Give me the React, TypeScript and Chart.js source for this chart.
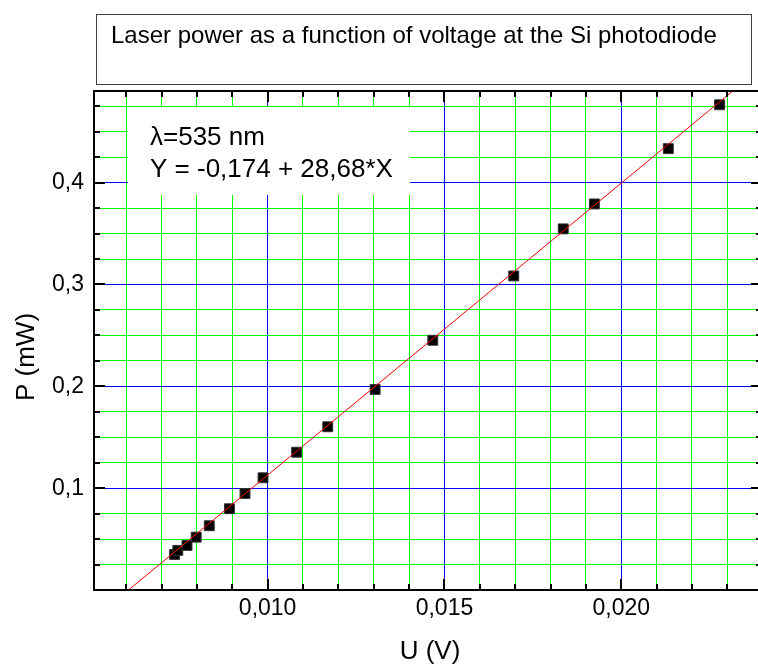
import React, { useEffect, useRef } from 'react';
import { Chart, registerables } from 'chart.js';

Chart.register(...registerables);

// ---- data ----
const voltageU = [0.00737, 0.00746, 0.00772, 0.00798, 0.00835, 0.00892, 0.00936, 0.00987, 0.01082, 0.0117, 0.01304, 0.01467, 0.01696, 0.01836, 0.01924, 0.02133, 0.02278];
const powerP = [0.0349, 0.0389, 0.0438, 0.0519, 0.0631, 0.0798, 0.0948, 0.1102, 0.1353, 0.1603, 0.1969, 0.2452, 0.3084, 0.3546, 0.3791, 0.4334, 0.4765];

// linear fit Y = -0,174 + 28,68*X, end points
const fitU = [0.006, 0.0233];
const fitP = [-0.0019, 0.4942];

// ---- ticks ----
const xTickValues = [0.006, 0.007, 0.008, 0.009, 0.01, 0.011, 0.012, 0.013, 0.014, 0.015, 0.016, 0.017, 0.018, 0.019, 0.02, 0.021, 0.022, 0.023];
const xMajorTicks = [0.01, 0.015, 0.02];
const xTickLabels = ['0,010', '0,015', '0,020'];
const yTickValues = [0.025, 0.05, 0.075, 0.1, 0.125, 0.15, 0.175, 0.2, 0.225, 0.25, 0.275, 0.3, 0.325, 0.35, 0.375, 0.4, 0.425, 0.45, 0.475];
const yMajorTicks = [0.1, 0.2, 0.3, 0.4];
const yTickLabels = ['0,1', '0,2', '0,3', '0,4'];

const xRange = [0.00509, 0.02398];
const yRange = [0, 0.49];

// ---- texts ----
const titleText = 'Laser power as a function of voltage at the Si photodiode';
const annotationLines = ['\u03bb=535 nm', 'Y = -0,174 + 28,68*X'];
const xAxisTitle = 'U (V)';
const yAxisTitle = 'P (mW)';

const FONT = '"Liberation Sans", Arial, Helvetica, sans-serif';
const GREEN = '#00ff00';
const BLUE = '#0000ff';

const majorIndex = (list: number[], v: number) => list.findIndex((m) => Math.abs(m - v) < 1e-9);

const decorPlugin = {
  id: 'decor',
  beforeDatasetsDraw(chart: any) {
    const { ctx, chartArea } = chart;
    ctx.save();
    // white annotation box covering the grid
    const bx = chartArea.left + 34;
    const by = chartArea.top + 16;
    ctx.fillStyle = '#ffffff';
    ctx.fillRect(bx, by, 282, 88);
    ctx.fillStyle = '#000000';
    ctx.font = `26px ${FONT}`;
    ctx.textAlign = 'left';
    ctx.textBaseline = 'alphabetic';
    ctx.fillText(annotationLines[0], chartArea.left + 56, chartArea.top + 54);
    ctx.fillText(annotationLines[1], chartArea.left + 56, chartArea.top + 86);
    ctx.restore();
  },
  afterDatasetsDraw(chart: any) {
    const { ctx, chartArea, scales } = chart;
    const { left, right, top, bottom } = chartArea;
    ctx.save();
    ctx.strokeStyle = '#000000';
    ctx.lineWidth = 2;
    ctx.strokeRect(left, top, right - left, bottom - top);
    ctx.beginPath();
    xTickValues.forEach((v) => {
      const px = Math.round(scales.x.getPixelForValue(v));
      const len = majorIndex(xMajorTicks, v) >= 0 ? 11 : 6;
      ctx.moveTo(px, bottom);
      ctx.lineTo(px, bottom - len);
      ctx.moveTo(px, top);
      ctx.lineTo(px, top + len);
    });
    yTickValues.forEach((v) => {
      const py = Math.round(scales.y.getPixelForValue(v));
      const len = majorIndex(yMajorTicks, v) >= 0 ? 11 : 6;
      ctx.moveTo(left, py);
      ctx.lineTo(left + len, py);
      ctx.moveTo(right, py);
      ctx.lineTo(right - len, py);
    });
    ctx.stroke();
    ctx.restore();
  },
  afterDraw(chart: any) {
    const { ctx } = chart;
    ctx.save();
    // title box
    ctx.strokeStyle = '#404040';
    ctx.lineWidth = 1;
    ctx.strokeRect(96.5, 14.5, 655, 70);
    ctx.fillStyle = '#000000';
    ctx.font = `24px ${FONT}`;
    ctx.textAlign = 'left';
    ctx.textBaseline = 'alphabetic';
    ctx.fillText(titleText, 111, 43);
    // axis titles
    ctx.font = `26px ${FONT}`;
    ctx.textAlign = 'center';
    ctx.textBaseline = 'middle';
    ctx.fillText(xAxisTitle, 430, 652);
    ctx.translate(27, 357);
    ctx.rotate(-Math.PI / 2);
    ctx.fillText(yAxisTitle, 0, 0);
    ctx.restore();
  },
};

export default function App() {
  const canvasRef = useRef<HTMLCanvasElement | null>(null);

  useEffect(() => {
    const canvas = canvasRef.current;
    if (!canvas) return;
    Chart.defaults.font.family = FONT;
    const chart = new Chart(canvas, {
      type: 'scatter',
      data: {
        datasets: [
          {
            label: 'fit',
            data: fitU.map((u, i) => ({ x: u, y: fitP[i] })),
            showLine: true,
            borderColor: '#ff0000',
            borderWidth: 1,
            pointRadius: 0,
            fill: false,
            order: 0,
          },
          {
            label: 'P',
            data: voltageU.map((u, i) => ({ x: u, y: powerP[i] })),
            pointStyle: 'rect',
            pointRadius: 7,
            pointBackgroundColor: '#000000',
            pointBorderColor: '#333333',
            pointBorderWidth: 1,
            showLine: false,
            order: 1,
          },
        ],
      },
      options: {
        animation: false,
        responsive: false,
        devicePixelRatio: 1,
        layout: { padding: { top: 91, right: 6, left: 0, bottom: 0 } },
        plugins: {
          legend: { display: false },
          tooltip: { enabled: false },
          title: { display: false },
        },
        scales: {
          x: {
            type: 'linear',
            min: xRange[0],
            max: xRange[1],
            afterBuildTicks: (scale: any) => {
              scale.ticks = xTickValues.map((v) => ({ value: v }));
            },
            afterFit: (scale: any) => {
              scale.height = 79;
            },
            grid: {
              drawTicks: false,
              lineWidth: 1,
              color: (ctx: any) => (ctx.tick && majorIndex(xMajorTicks, ctx.tick.value) >= 0 ? BLUE : GREEN),
            },
            border: { display: false },
            ticks: {
              autoSkip: false,
              maxRotation: 0,
              padding: 5,
              color: '#000000',
              font: { size: 23, family: FONT },
              callback: (v: any) => {
                const i = majorIndex(xMajorTicks, Number(v));
                return i >= 0 ? xTickLabels[i] : '';
              },
            },
          },
          y: {
            type: 'linear',
            min: yRange[0],
            max: yRange[1],
            afterBuildTicks: (scale: any) => {
              scale.ticks = yTickValues.map((v) => ({ value: v }));
            },
            afterFit: (scale: any) => {
              scale.width = 94;
            },
            grid: {
              drawTicks: false,
              lineWidth: 1,
              color: (ctx: any) => (ctx.tick && majorIndex(yMajorTicks, ctx.tick.value) >= 0 ? BLUE : GREEN),
            },
            border: { display: false },
            ticks: {
              autoSkip: false,
              padding: 10,
              color: '#000000',
              font: { size: 23, family: FONT },
              callback: (v: any) => {
                const i = majorIndex(yMajorTicks, Number(v));
                return i >= 0 ? yTickLabels[i] : '';
              },
            },
          },
        },
      },
      plugins: [decorPlugin],
    });
    return () => chart.destroy();
  }, []);

  return (
    <div
      style={{
        position: 'fixed',
        left: 0,
        top: 0,
        width: 758,
        height: 669,
        overflow: 'hidden',
        background: '#ffffff',
      }}
    >
      <canvas ref={canvasRef} width={770} height={669} style={{ display: 'block', width: 770, height: 669 }} />
    </div>
  );
}
